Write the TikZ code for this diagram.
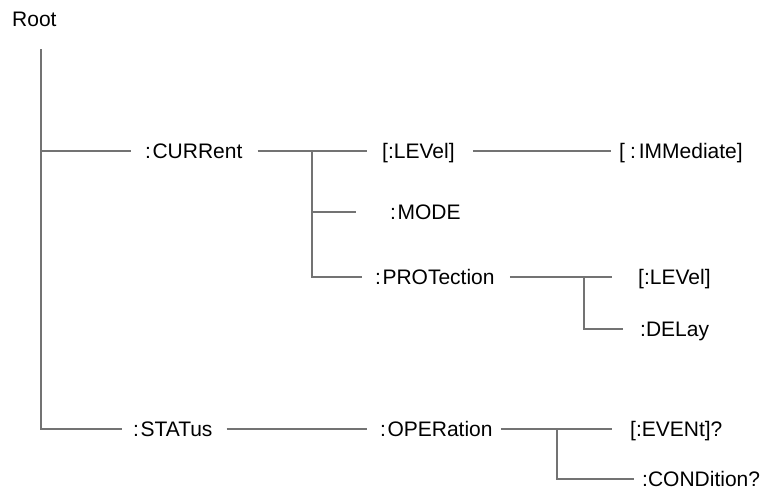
\documentclass[tikz,border=0pt]{standalone}
\usepackage{fontspec}
\setmainfont{Liberation Sans}
\usepackage{tikz}
\usetikzlibrary{calc}
\colorlet{treegray}{black!55}

\begin{document}
\begin{tikzpicture}[
x=1pt,y=-1pt,
tag/.style={anchor=west,inner sep=0pt,text height=15pt,text depth=0pt,
font=\fontsize{21}{25}\selectfont},
lnk/.style={draw=treegray,line width=1.1pt}
]
\useasboundingbox (0,0) rectangle (764,488);
\node[tag] (root) at (12,19)  {Root};
\node[tag] (cur)  at (145,151) {:\kern1.5pt CURRent};
\node[tag] (lev)  at (382,151) {[:LEVel]};
\node[tag] (imm)  at (619,151) {[\kern5pt:\kern3pt IMMediate]};
\node[tag] (mode) at (390,212) {:\kern1.5pt MODE};
\node[tag] (prot) at (375,277) {:\kern1.5pt PROTection};
\node[tag] (plev) at (638,277) {[:LEVel]};
\node[tag] (dly)  at (640,329) {:DELay};
\node[tag] (stat) at (133,429) {:\kern1.5pt STATus};
\node[tag] (oper) at (380,429) {:\kern1.5pt OPERation};
\node[tag] (evt)  at (630,429) {[:EVENt]?};
\node[tag] (cond) at (642,479) {:CONDition?};

\coordinate (trunk) at (41,49);
\coordinate (bcur)  at (312,151);
\coordinate (bprot) at (584,277);
\coordinate (boper) at (557,429);

\draw[lnk] (trunk) |- ([xshift=-11pt]stat.west);
\draw[lnk] (trunk |- cur) -- ([xshift=-14pt]cur.west);
\draw[lnk] ([xshift=15pt]cur.east) -- ([xshift=-15pt]lev.west);
\draw[lnk] (bcur) |- ([xshift=-13pt]prot.west);
\draw[lnk] (bcur |- mode) -- ([xshift=-34pt]mode.west);
\draw[lnk] ([xshift=18pt]lev.east) -- ([xshift=-8pt]imm.west);
\draw[lnk] ([xshift=15pt]prot.east) -- ([xshift=-26pt]plev.west);
\draw[lnk] (bprot) |- ([xshift=-17pt]dly.west);
\draw[lnk] ([xshift=14pt]stat.east) -- ([xshift=-13pt]oper.west);
\draw[lnk] ([xshift=8pt]oper.east) -- ([xshift=-18pt]evt.west);
\draw[lnk] (boper) |- ([xshift=-8pt]cond.west);
\end{tikzpicture}
\end{document}
